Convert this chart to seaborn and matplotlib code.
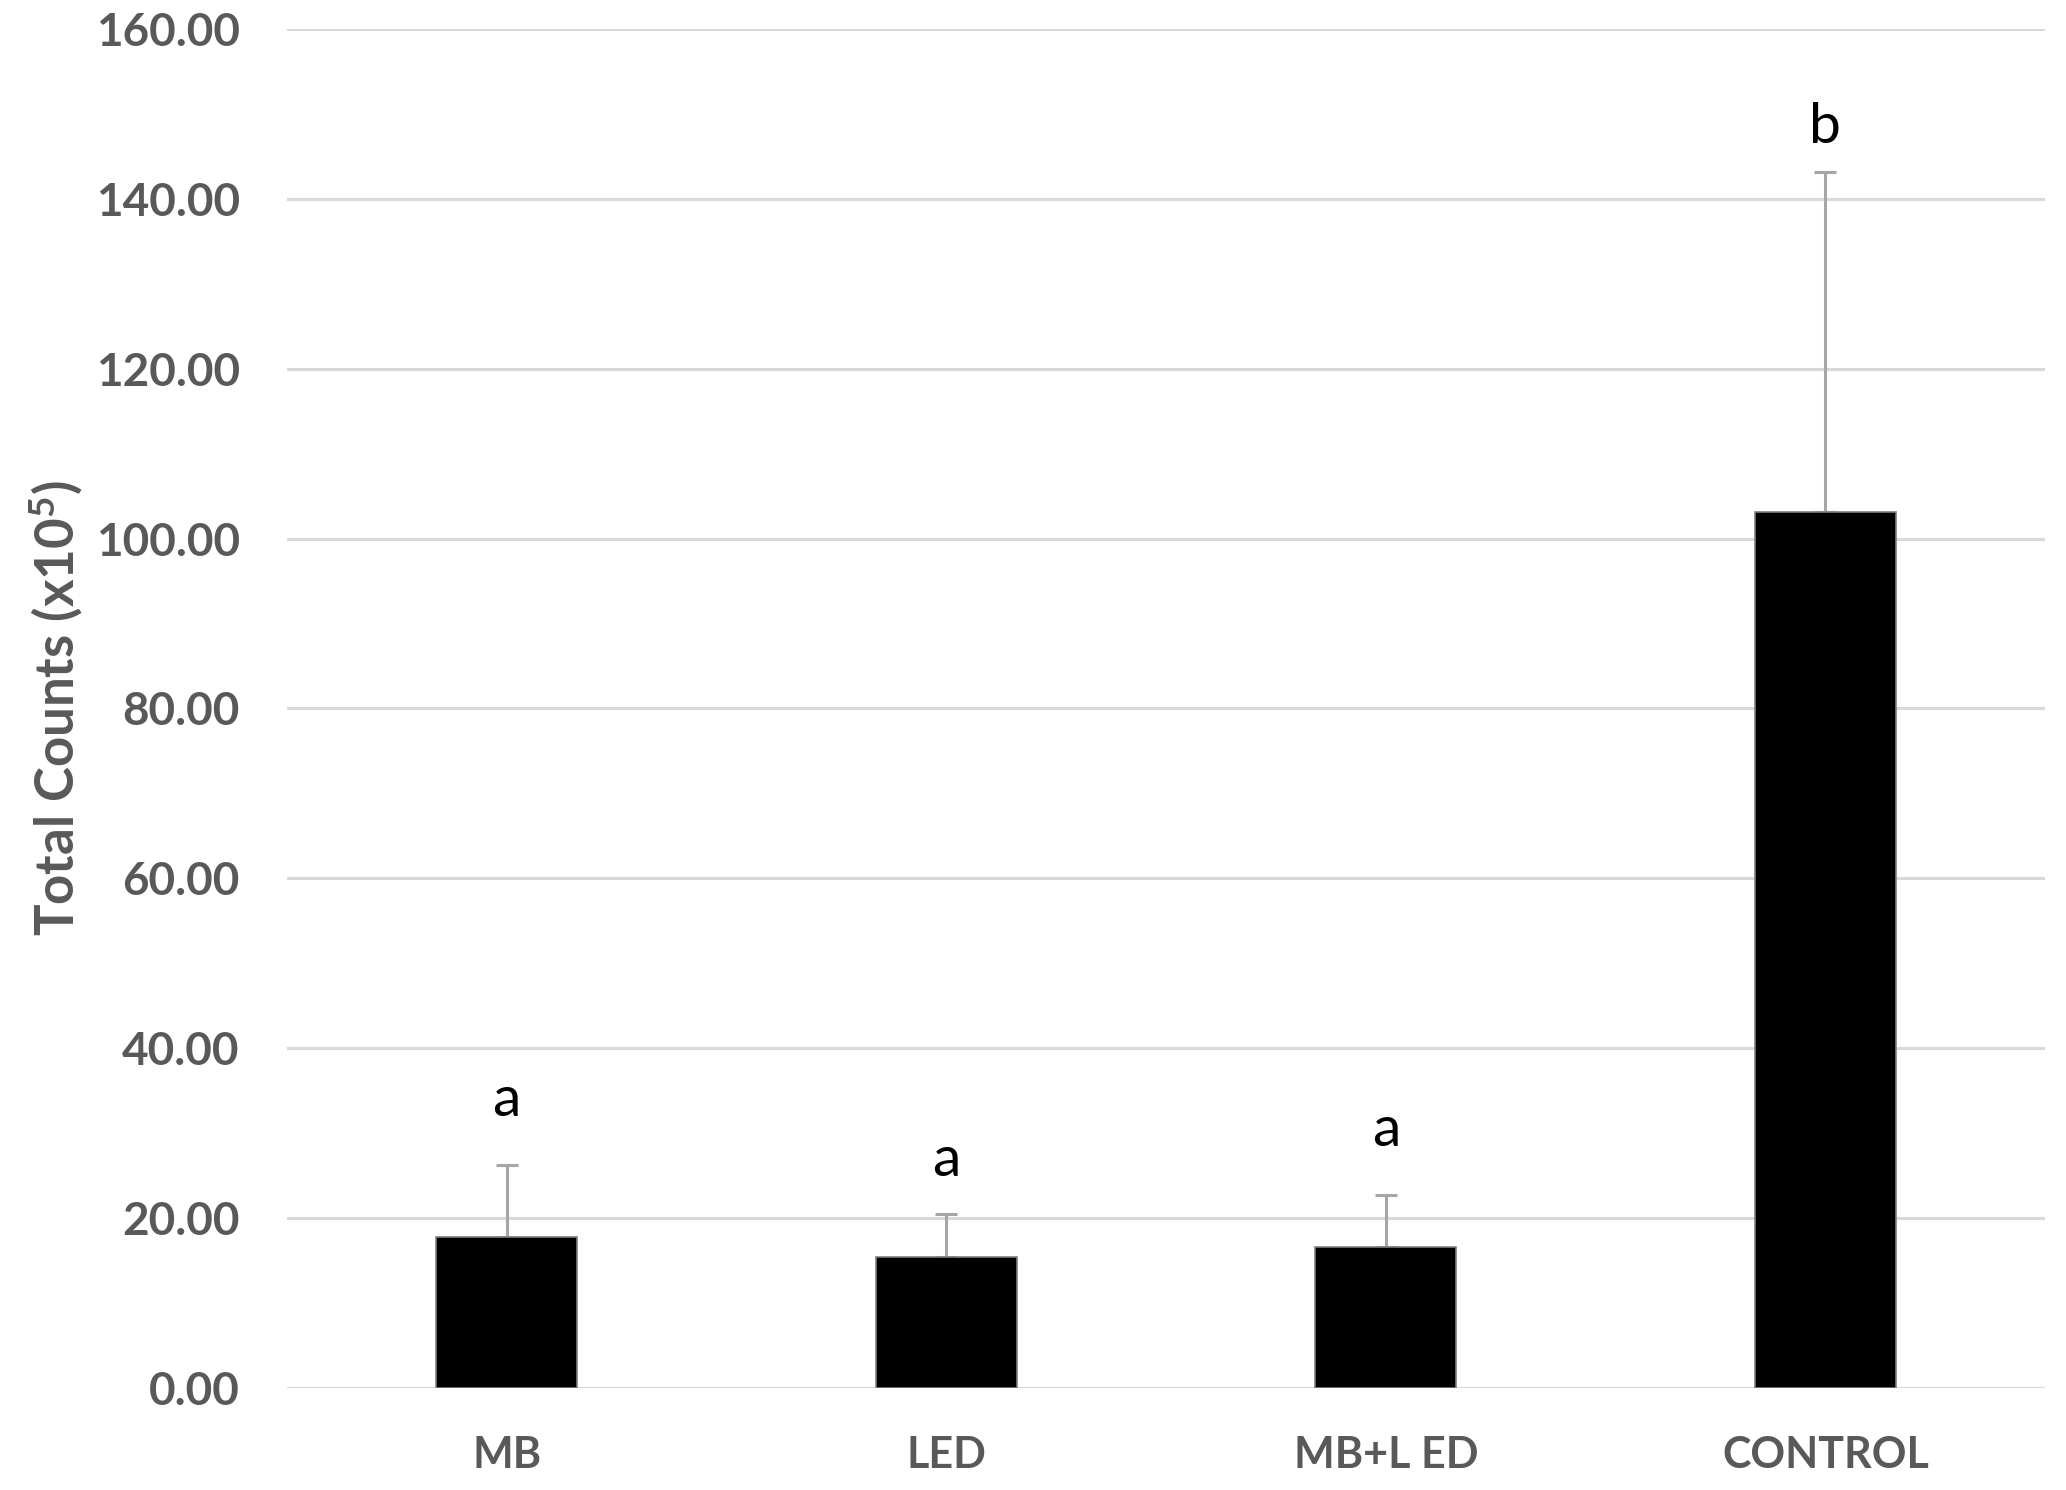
import pandas as pd
import matplotlib.pyplot as plt
import seaborn as sns

groups = ['MB', 'LED', 'MB+L ED', 'CONTROL']
means = [17.8, 15.4, 16.6, 103.1]
sds = [8.4, 5.1, 6.1, 40.1]
letters = ['a', 'a', 'a', 'b']
letter_y = [33.8, 26.8, 30.3, 148.4]
yticks = [0, 20, 40, 60, 80, 100, 120, 140, 160]

df = pd.DataFrame({'Group': groups, 'Counts': means})

sns.set_style('white')
plt.rcParams['font.family'] = ['Lato', 'DejaVu Sans']
plt.rcParams['mathtext.fontset'] = 'custom'
plt.rcParams['mathtext.rm'] = 'Lato:bold'
plt.rcParams['mathtext.default'] = 'regular'

grey = '#595959'

fig = plt.figure(figsize=(20.66, 14.9), dpi=100)
ax = fig.add_axes([0.1389, 0.0685, 0.8510, 0.912])

sns.barplot(data=df, x='Group', y='Counts', color='black', width=0.32,
            edgecolor='#7f7f7f', linewidth=1.2, errorbar=None, ax=ax, zorder=3)

# upper error bars only
ax.errorbar(range(len(groups)), means, yerr=[[0] * len(sds), sds], fmt='none',
            ecolor='#a6a6a6', elinewidth=2.2, capsize=8, capthick=2.2, zorder=2)

for i, (lab, yv) in enumerate(zip(letters, letter_y)):
    ax.text(i, yv, lab, ha='center', va='center', fontsize=41, color='black')

ax.set_ylim(0, 160)
ax.set_xlim(-0.5, 3.5)
ax.set_yticks(yticks)
ax.set_yticklabels([f'{v:.2f}' for v in yticks])
ax.yaxis.grid(True, color='#d9d9d9', linewidth=2.2, zorder=0)
ax.set_axisbelow(True)
sns.despine(ax=ax, left=True, bottom=True)

ax.tick_params(axis='y', length=0, pad=34, labelsize=33, labelcolor=grey)
ax.tick_params(axis='x', length=0, pad=34, labelsize=31, labelcolor=grey)
for t in ax.get_xticklabels() + ax.get_yticklabels():
    t.set_fontweight('bold')

ax.set_xlabel('')
ax.set_ylabel('Total Counts (x10$^{5}$)', fontsize=38, fontweight='bold', color=grey, labelpad=8)

plt.savefig('out.png', dpi=100)
